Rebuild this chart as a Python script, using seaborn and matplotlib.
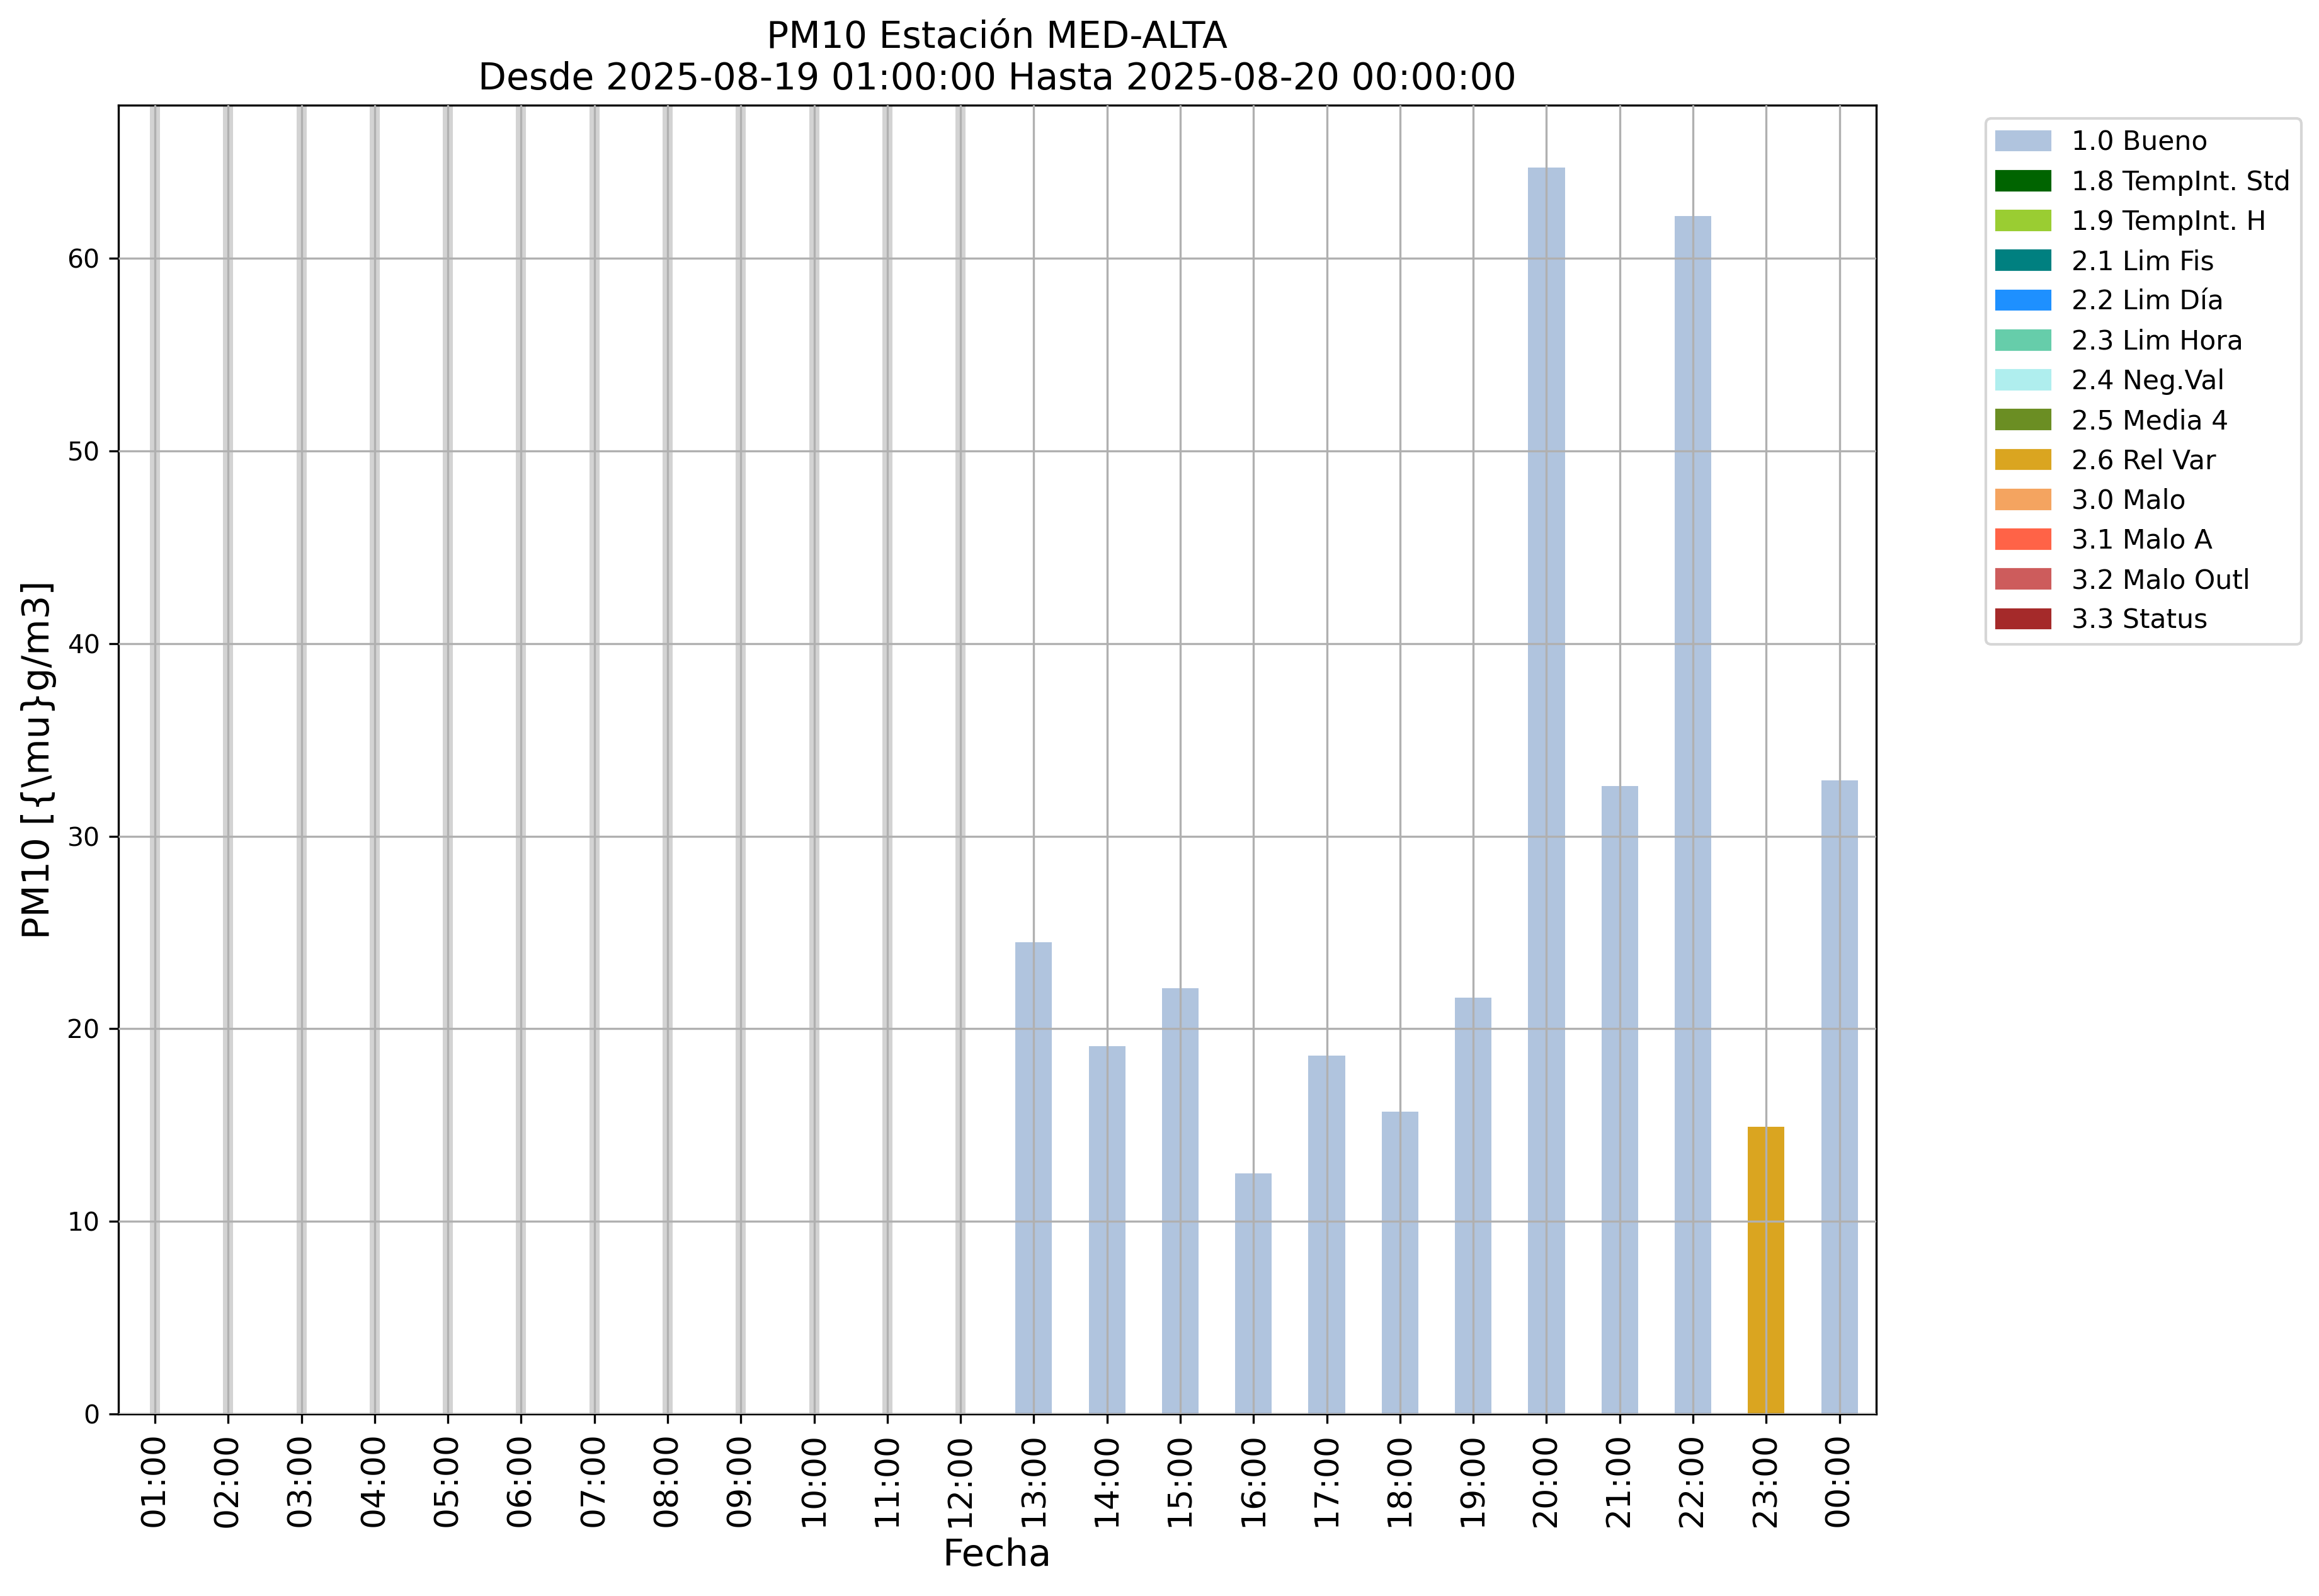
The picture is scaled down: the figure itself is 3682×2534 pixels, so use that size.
import numpy as np
import pandas as pd
import matplotlib
matplotlib.use("Agg")
import matplotlib.pyplot as plt
import seaborn as sns
from matplotlib.patches import Patch

# datos horarios PM10 (NaN = sin dato)
horas = ["01:00", "02:00", "03:00", "04:00", "05:00", "06:00",
         "07:00", "08:00", "09:00", "10:00", "11:00", "12:00",
         "13:00", "14:00", "15:00", "16:00", "17:00", "18:00",
         "19:00", "20:00", "21:00", "22:00", "23:00", "00:00"]
valores = [np.nan, np.nan, np.nan, np.nan, np.nan, np.nan,
           np.nan, np.nan, np.nan, np.nan, np.nan, np.nan,
           24.5, 19.1, 22.1, 12.5, 18.6, 15.7,
           21.6, 64.7, 32.6, 62.2, 14.9, 32.9]
banderas = [None, None, None, None, None, None,
            None, None, None, None, None, None,
            "1.0 Bueno", "1.0 Bueno", "1.0 Bueno", "1.0 Bueno", "1.0 Bueno", "1.0 Bueno",
            "1.0 Bueno", "1.0 Bueno", "1.0 Bueno", "1.0 Bueno", "2.6 Rel Var", "1.0 Bueno"]

etiquetas = ["1.0 Bueno", "1.8 TempInt. Std", "1.9 TempInt. H", "2.1 Lim Fis",
             "2.2 Lim Día", "2.3 Lim Hora", "2.4 Neg.Val", "2.5 Media 4",
             "2.6 Rel Var", "3.0 Malo", "3.1 Malo A", "3.2 Malo Outl", "3.3 Status"]
colores = ["lightsteelblue", "darkgreen", "yellowgreen", "teal",
           "dodgerblue", "mediumaquamarine", "paleturquoise", "olivedrab",
           "goldenrod", "sandybrown", "tomato", "indianred", "brown"]
paleta = dict(zip(etiquetas, colores))

df = pd.DataFrame({"hora": horas, "valor": valores, "bandera": banderas})
validos = df.dropna(subset=["valor"])

fig, ax = plt.subplots(figsize=(3682 / 300, 2534 / 300), dpi=300)
fig.subplots_adjust(left=0.051, right=0.809, top=0.934, bottom=0.114)

sns.barplot(data=validos, x="hora", y="valor", hue="bandera", order=horas,
            hue_order=etiquetas, palette=paleta, dodge=False, width=0.5,
            saturation=1, errorbar=None, legend=False, ax=ax)

# marcar las horas sin dato
for i, v in enumerate(valores):
    if np.isnan(v):
        ax.axvline(i, color="lightgrey", lw=3.85, zorder=0.5)

ax.grid(True, color="#b0b0b0", lw=0.8)
ax.set_axisbelow(False)

ax.set_title("PM10 Estación MED-ALTA\nDesde 2025-08-19 01:00:00 Hasta 2025-08-20 00:00:00",
             fontsize=14)
ax.set_xlabel("Fecha", fontsize=14.2)
ax.set_ylabel(r"PM10 [{\mu}g/m3]", fontsize=14.2)
ax.tick_params(axis="x", labelsize=12.5, labelrotation=90)
ax.tick_params(axis="y", labelsize=9.8)

handles = [Patch(color=c, label=l) for l, c in zip(etiquetas, colores)]
ax.legend(handles=handles, loc="upper left", bbox_to_anchor=(1.055, 1), fontsize=10.2)

fig.savefig("out.png", dpi=300)
